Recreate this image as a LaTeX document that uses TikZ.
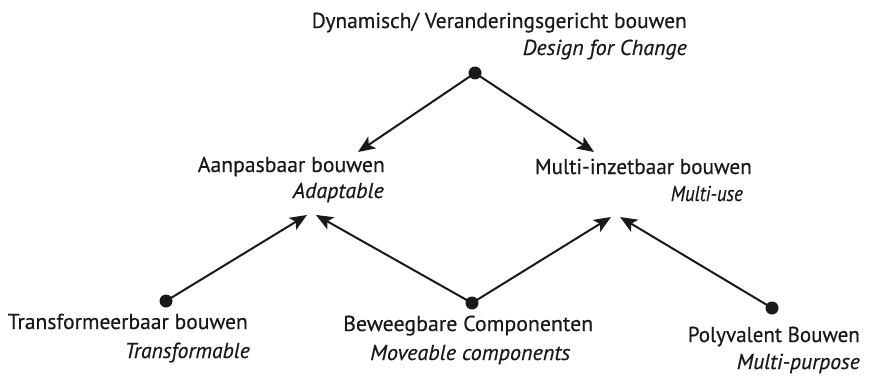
\documentclass[tikz,border=0pt]{standalone}
\usepackage{graphicx}
\usepackage{fontspec}
\setmainfont{PT Sans}[FakeBold=0.4]
\usetikzlibrary{arrows.meta}
\newcommand\fitw[2]{\resizebox{#1pt}{\height}{#2}}
\begin{document}
\begin{tikzpicture}[x=1pt,y=-1pt,
  dot/.style={circle,fill=black!90,inner sep=0pt,minimum size=13pt},
  arr/.style={line width=2pt,black!90,-{Stealth[length=17pt,width=14pt,inset=4pt]}},
  nl/.style={inner sep=0pt,text=black!90,font=\fontsize{21.6}{26}\selectfont},
  el/.style={inner sep=0pt,text=black!90,font=\fontsize{21.6}{26}\selectfont\itshape}]
\useasboundingbox (0,0) rectangle (869,377);
% dots
\node[dot] (d0) at (475,73) {};
\node[dot] (dT) at (166,301) {};
\node[dot] (dB) at (472,303) {};
\node[dot] (dP) at (772,308) {};
% arrow tips
\coordinate (tA1) at (358,152);
\coordinate (tM1) at (594,152);
\coordinate (tA2) at (307,215);
\coordinate (tA3) at (316,215);
\coordinate (tM2) at (611,217);
\coordinate (tM3) at (620,217);
% labels
\node[nl,anchor=base east] (lD) at (687,28) {\fitw{375}{Dynamisch/ Veranderingsgericht bouwen}};
\node[el,anchor=base east] (lDe) at (687,55) {\fitw{164}{Design for Change}};
\node[nl,anchor=base east] (lA) at (385,172) {\fitw{187}{Aanpasbaar bouwen}};
\node[el,anchor=base east] (lAe) at (384,198) {\fitw{91}{Adaptable}};
\node[nl,anchor=base east] (lM) at (752,174) {\fitw{217}{Multi-inzetbaar bouwen}};
\node[el,anchor=base east] (lMe) at (743,201) {\fitw{72}{Multi-use}};
\node[nl,anchor=base east] (lT) at (248,329) {\fitw{240}{Transformeerbaar bouwen}};
\node[el,anchor=base east] (lTe) at (250,358) {\fitw{125}{Transformable}};
\node[nl,anchor=base west] (lB) at (343,331) {\fitw{250}{Beweegbare Componenten}};
\node[el,anchor=base west] (lBe) at (370,360) {\fitw{200}{Moveable components}};
\node[nl,anchor=base east] (lP) at (860,342) {\fitw{172}{Polyvalent Bouwen}};
\node[el,anchor=base east] (lPe) at (860,369) {\fitw{123}{Multi-purpose}};
% connectors
\draw[arr] (d0.center) -- (tA1);
\draw[arr] (d0.center) -- (tM1);
\draw[arr] (dT.center) -- (tA2);
\draw[arr] (dB.center) -- (tA3);
\draw[arr] (dB.center) -- (tM2);
\draw[arr] (dP.center) -- (tM3);
\end{tikzpicture}
\end{document}
